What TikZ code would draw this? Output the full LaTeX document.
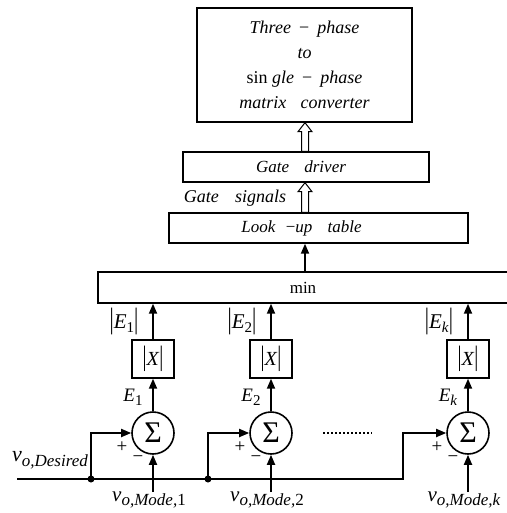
\documentclass[tikz,border=0pt]{standalone}
\usepackage{fontspec}
\setmainfont{Liberation Serif}
\usetikzlibrary{arrows.meta,calc}
\newcommand{\bigbar}{\scalebox{1}[1.4]{|}}
\newcommand{\lowsub}[2][15]{\raisebox{-0.5ex}{\fontsize{#1}{#1}\selectfont #2}}
\begin{document}
\begin{tikzpicture}[x=1pt,y=-1pt,
    font=\fontsize{17}{21}\selectfont,
    box/.style={draw,line width=1.4pt,inner sep=0pt},
    sumnode/.style={draw,circle,line width=1.6pt,minimum size=42pt,inner sep=0pt,
        font=\fontsize{30}{30}\selectfont},
    absbox/.style={draw,line width=1.4pt,minimum width=42pt,minimum height=38pt,inner sep=0pt,
        font=\fontsize{20}{22}\selectfont},
    sig/.style={line width=1.8pt},
    arr/.style={sig,-{Triangle[width=8pt,length=10pt]}},
    hollow/.style={line width=1pt,to path={let \p1=(\tikztostart),\p2=(\tikztotarget) in
        (\x1-3.5pt,\y1) -- (\x1-3.5pt,\y2-9pt) -- (\x1-7pt,\y2-9pt) -- (\x1,\y2)
        -- (\x1+7pt,\y2-9pt) -- (\x1+3.5pt,\y2-9pt) -- (\x1+3.5pt,\y1) -- cycle}},
    dot/.style={circle,fill,inner sep=0pt,minimum size=7pt},
    sign/.style={font=\fontsize{19}{19}\selectfont,inner sep=0pt}]
\useasboundingbox (0,0) rectangle (506,513);

% boxes of the upper chain
\node[box,minimum width=215pt,minimum height=114pt,align=center,
    font=\fontsize{18}{25}\selectfont] (conv) at (304.5,65)
    {\textit{Three}\hspace{0.45em}−\hspace{0.45em}\textit{phase}\\
     \textit{to}\\
     sin \textit{gle}\hspace{0.45em}−\hspace{0.45em}\textit{phase}\\
     \textit{matrix}\hspace{0.8em}\textit{converter}};
\node[box,minimum width=246pt,minimum height=30pt] (drv) at (306,167)
    {\hspace*{-10pt}\textit{Gate}\hspace{0.9em}\textit{driver}};
\node[box,minimum width=299pt,minimum height=30pt] (lut) at (318.5,228)
    {\hspace*{-34pt}\textit{Look}\hspace{0.6em}−\textit{up}\hspace{0.9em}\textit{table}};
\node[box,minimum width=410pt,minimum height=31pt] (min) at (303,287.5) {min};
\node[font=\fontsize{18}{21}\selectfont] (gs) at (235,198)
    {\textit{Gate}\hspace{0.9em}\textit{signals}};

\coordinate (ax) at (305,0);
\draw[hollow] (drv.north -| ax) to (conv.south -| ax);
\draw[hollow] (lut.north -| ax) to (drv.south -| ax);
\draw[arr] (min.north -| ax) -- (lut.south -| ax);

% one branch per mode
\foreach \i/\x/\s in {1/153/1, 2/271/2, k/468/\textit{k}}
{
    \node[sumnode] (sum\i) at (\x,433) {Σ};
    \node[absbox] (abs\i) at (\x,359) {\bigbar\textit{X}\bigbar};
    \draw[arr] (sum\i) -- (abs\i);
    \draw[arr] (abs\i) -- (abs\i |- min.south);
    \node[font=\fontsize{21}{22}\selectfont] (abslab\i) at (\x-29,321)
        {\bigbar\textit{E}\lowsub{\s}\bigbar};
    \node[font=\fontsize{19}{21}\selectfont] (elab\i) at (\x-20,397)
        {\textit{E}\lowsub{\s}};
    \node[sign] (plus\i) at (\x-31,447) {+};
    \node[sign] (minus\i) at (\x-15,459) {−};
    \coordinate (in\i) at (\x,492);
    \draw[arr] (in\i) -- (sum\i);
    \node[font=\fontsize{21}{22}\selectfont] (vlab\i) at (\x-4,500)
        {\textit{v}\lowsub[17]{\textit{o,Mode,}\s}};
}

% reference signal and its taps
\coordinate (start) at (17,479);
\coordinate (bend) at (403,479);
\node[dot] (d1) at (91,479) {};
\node[dot] (d2) at (208,479) {};
\node[font=\fontsize{22}{22}\selectfont] (vd) at (50,460)
    {\textit{v}\lowsub[17]{\textit{o,Desired}}};
\draw[arr] (start) -- (bend) |- (sumk.west);
\draw[arr] (d1.center) |- (sum1.west);
\draw[arr] (d2.center) |- (sum2.west);
\draw[line width=1.8pt,dash pattern=on 2pt off 2pt] (323,433) -- (372,433);
\end{tikzpicture}
\end{document}
